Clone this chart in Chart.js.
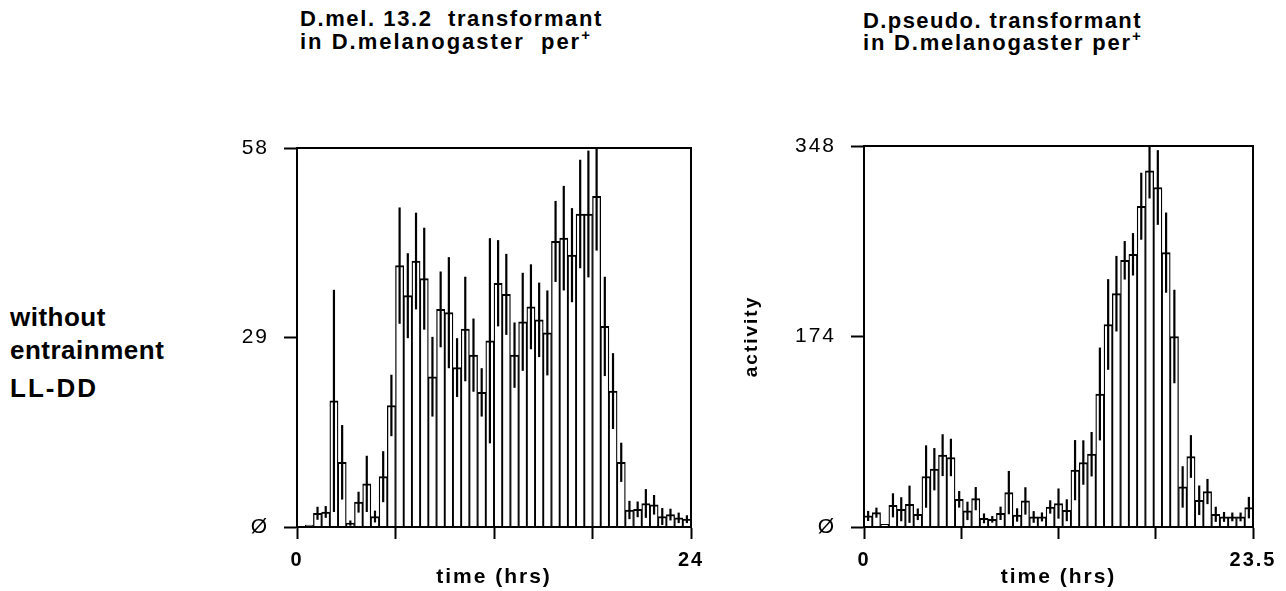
<!DOCTYPE html>
<html>
<head>
<meta charset="utf-8">
<title>per+ transformants – activity profiles</title>
<script src="https://cdn.jsdelivr.net/npm/chart.js@4.4.1/dist/chart.umd.min.js"></script>
<style>
  body {
    margin: 0;
    width: 1286px;
    height: 591px;
    position: relative;
    overflow: hidden;
    background: #fff;
    color: #000;
    font-family: "Liberation Sans", Arial, sans-serif;
    font-weight: bold;
  }
  .txt { position: absolute; white-space: pre; }
  .title { font-size: 22px; line-height: 24px; }
  .row { font-size: 26px; line-height: 30px; letter-spacing: 0.5px; }
  sup { font-size: 15px; vertical-align: 9px; line-height: 0; }
  canvas { position: absolute; }
</style>
</head>
<body>

<!-- panel titles -->
<div class="txt title" style="left:300px; top:7px; letter-spacing:1.6px">D.mel. 13.2  transformant</div>
<div class="txt title" style="left:300px; top:30px; letter-spacing:2px">in D.melanogaster  per<sup>+</sup></div>
<div class="txt title" style="left:863px; top:9px; letter-spacing:1.4px">D.pseudo. transformant</div>
<div class="txt title" style="left:863px; top:31px; letter-spacing:1.8px">in D.melanogaster per<sup>+</sup></div>

<!-- row label -->
<div class="txt row" style="left:10px; top:302px">without</div>
<div class="txt row" style="left:10px; top:335px">entrainment</div>
<div class="txt row" style="left:10px; top:373px; letter-spacing:2px">LL-DD</div>

<canvas id="chart-mel" width="520" height="491" style="left:200px; top:100px"></canvas>
<canvas id="chart-pse" width="566" height="491" style="left:720px; top:100px"></canvas>

<script>
// ── Data: half-hour bins, mean activity and SEM ──────────────
const binHours = 0.5;

// D.mel 13.2 transformant, 0–24 h
const melValues = [
  0.1, 0.3, 2.1, 2.3, 19.3, 9.9, 0.6, 3.8, 6.6, 1.6, 7.7, 18.6,
  40.0, 35.4, 40.7, 38.0, 23.0, 33.3, 32.8, 24.4, 30.3, 26.3, 20.6, 28.5,
  37.3, 35.6, 26.3, 31.4, 33.7, 31.7, 29.7, 43.7, 44.2, 41.6, 47.9, 47.9,
  50.6, 30.7, 20.8, 9.9, 2.6, 2.7, 3.6, 3.4, 1.6, 1.9, 1.4, 1.2
];
const melSem = [
  0, 0, 1.0, 0.9, 17.0, 5.7, 0.4, 1.6, 4.3, 0.9, 3.9, 4.7,
  8.9, 6.5, 7.4, 7.8, 6.1, 5.8, 8.5, 4.5, 8.0, 5.6, 3.7, 15.7,
  6.6, 6.2, 5.0, 7.5, 6.5, 5.7, 6.5, 6.2, 8.0, 7.2, 8.3, 9.7,
  8.3, 7.6, 5.8, 3.0, 1.4, 1.2, 2.2, 1.5, 1.3, 0.9, 0.8, 0.6
];
const melXTicks  = [0, 6, 12, 18, 24];
const melXLabels = ["0", "", "", "", "24"];
const melYTicks  = [0, 29, 58];
const melYLabels = ["Ø", "29", "58"];

// D.pseudo transformant, 0–23.5 h
const pseValues = [
  10.1, 13.1, 2.4, 19.8, 16.2, 20.8, 11.6, 46.1, 52.8, 65.6, 63.5, 25.3,
  14.7, 25.9, 7.9, 7.0, 12.5, 31.4, 11.0, 23.8, 9.2, 9.2, 18.3, 21.4,
  15.3, 51.9, 58.9, 66.5, 121.5, 185.0, 213.1, 243.6, 249.1, 293.0, 325.4, 310.1,
  250.6, 174.0, 36.6, 64.4, 24.4, 32.4, 11.6, 9.2, 9.2, 9.2, 17.7
];
const pseSem = [
  4.6, 4.6, 0, 11.0, 11.0, 17.0, 5.3, 28.5, 19.3, 19.1, 17.1, 7.6,
  8.4, 10.6, 4.5, 3.0, 6.1, 19.8, 6.1, 12.5, 5.3, 4.1, 6.1, 13.8,
  10.0, 27.5, 20.3, 20.3, 42.4, 41.4, 34.5, 17.6, 19.4, 30.6, 25.3, 34.1,
  36.6, 42.7, 18.9, 19.5, 13.5, 11.5, 6.9, 4.5, 4.0, 4.0, 9.8
];
const pseXTicks  = [0, 5.875, 11.75, 17.625, 23.5];
const pseXLabels = ["0", "", "", "", "23.5"];
const pseYTicks  = [0, 174, 348];
const pseYLabels = ["Ø", "174", "348"];

// ── Plugins ──────────────────────────────────────────────────
// spaced-out lettering like the old plotter labels
const spacing = {
  id: "spacing",
  beforeDraw(chart) { chart.ctx.letterSpacing = "2px"; }
};

// box round the plot area
const frame = {
  id: "frame",
  afterDraw(chart) {
    const { ctx, chartArea: a } = chart;
    ctx.save();
    ctx.strokeStyle = "#000";
    ctx.lineWidth = 2;
    ctx.strokeRect(a.left, a.top, a.right - a.left, a.bottom - a.top);
    ctx.restore();
  }
};

// vertical SEM lines through each bar
const errorBars = {
  id: "errorBars",
  afterDatasetsDraw(chart) {
    const { ctx } = chart;
    const y = chart.scales.y;
    const ds = chart.data.datasets[0];
    const bars = chart.getDatasetMeta(0).data;
    ctx.save();
    ctx.strokeStyle = "#000";
    ctx.lineWidth = 2.2;
    bars.forEach((bar, i) => {
      const s = ds.sem[i];
      if (!s) return;
      const v = ds.data[i].y;
      const hi = Math.min(v + s, y.max);
      const lo = Math.max(v - s, 0);
      ctx.beginPath();
      ctx.moveTo(bar.x, y.getPixelForValue(lo));
      ctx.lineTo(bar.x, y.getPixelForValue(hi));
      ctx.stroke();
    });
    ctx.restore();
  }
};

// ── Chart builder ────────────────────────────────────────────
function activityChart(id, cfg) {
  const points = cfg.values.map((v, i) => ({ x: i * binHours + binHours / 2, y: v }));
  const family = "'Liberation Sans', Arial, sans-serif";

  return new Chart(document.getElementById(id), {
    type: "bar",
    data: {
      datasets: [{
        data: points,
        sem: cfg.sem,
        backgroundColor: "#fff",
        borderColor: "#000",
        borderWidth: { top: 2, left: 1.3, right: 1.3, bottom: 0 },
        categoryPercentage: 1,
        barPercentage: 1
      }]
    },
    options: {
      responsive: false,
      animation: false,
      events: [],
      layout: { padding: cfg.padding },
      plugins: { legend: { display: false }, tooltip: { enabled: false } },
      scales: {
        x: {
          type: "linear",
          min: 0,
          max: cfg.xMax,
          offset: false,
          afterBuildTicks: s => { s.ticks = cfg.xTicks.map(v => ({ value: v })); },
          afterFit: s => { s.height = 64; },
          ticks: {
            autoSkip: false,
            maxRotation: 0,
            padding: 9,
            color: "#000",
            font: { family, size: 20, weight: "bold" },
            callback: (v, i) => cfg.xLabels[i]
          },
          grid: {
            offset: false,
            drawOnChartArea: false,
            tickLength: 12,
            tickWidth: 2,
            tickColor: "#000"
          },
          border: { color: "#000", width: 2 },
          title: {
            display: true,
            text: "time (hrs)",
            color: "#000",
            font: { family, size: 21, weight: "bold" },
            padding: { top: 0, bottom: 1 }
          }
        },
        y: {
          min: 0,
          max: cfg.yMax,
          afterBuildTicks: s => { s.ticks = cfg.yTicks.map(v => ({ value: v })); },
          afterFit: s => { s.width = cfg.yWidth; },
          ticks: {
            padding: 15,
            color: "#000",
            font: { family, size: 21 },
            callback: (v, i) => cfg.yLabels[i]
          },
          grid: {
            drawOnChartArea: false,
            tickLength: 13,
            tickWidth: 2,
            tickColor: "#000"
          },
          border: { color: "#000", width: 2 },
          title: {
            display: !!cfg.yTitle,
            text: cfg.yTitle || "",
            color: "#000",
            font: { family, size: 19, weight: "bold" },
            padding: { top: 20, bottom: 0 }
          }
        }
      }
    },
    plugins: [spacing, errorBars, frame]
  });
}

// ── Init ─────────────────────────────────────────────────────
activityChart("chart-mel", {
  values: melValues, sem: melSem,
  xMax: 24, xTicks: melXTicks, xLabels: melXLabels,
  yMax: 58, yTicks: melYTicks, yLabels: melYLabels,
  yWidth: 97,
  padding: { left: 0, top: 48, right: 29, bottom: 0 }
});

activityChart("chart-pse", {
  values: pseValues, sem: pseSem,
  xMax: 23.5, xTicks: pseXTicks, xLabels: pseXLabels,
  yMax: 348, yTicks: pseYTicks, yLabels: pseYLabels,
  yTitle: "activity",
  yWidth: 144,
  padding: { left: 0, top: 46, right: 33, bottom: 0 }
});
</script>
</body>
</html>
